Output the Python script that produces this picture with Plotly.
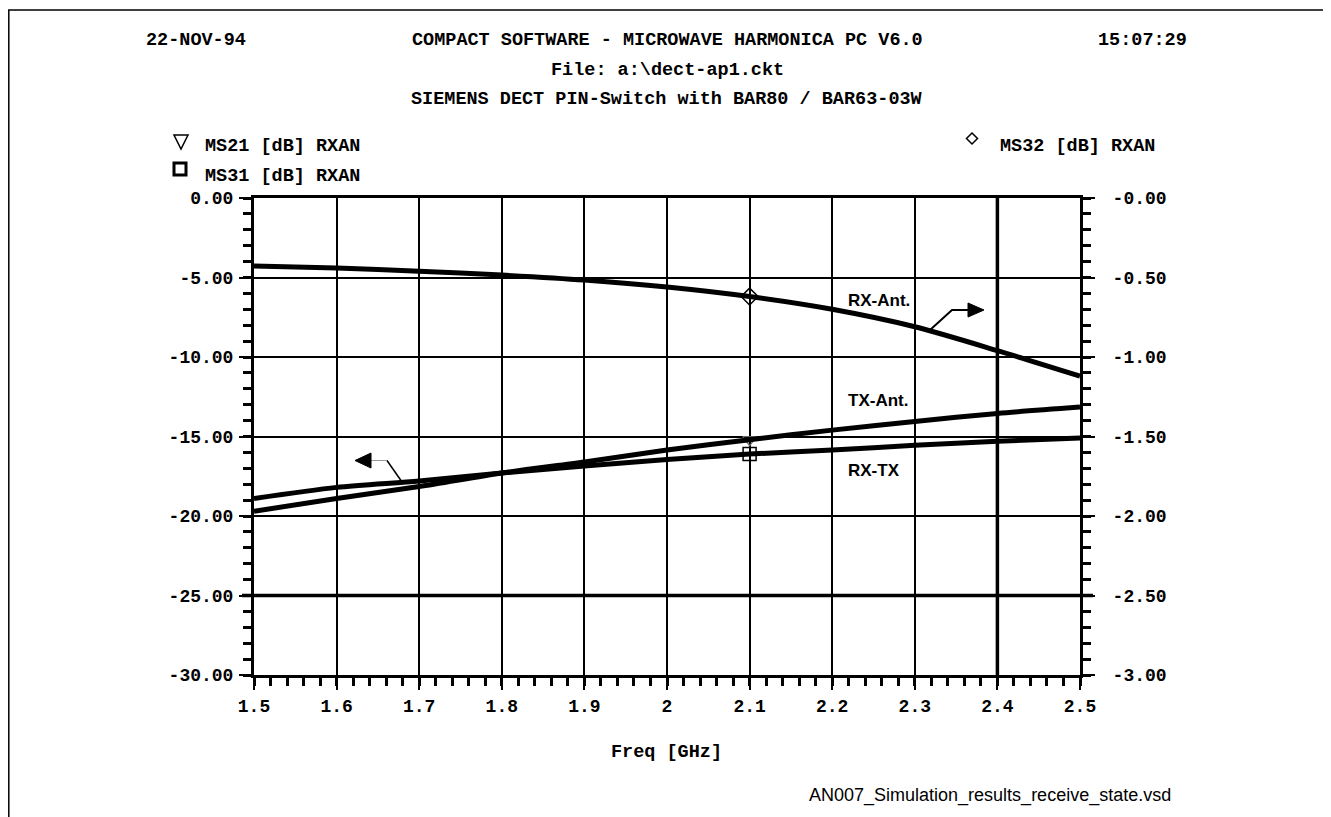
import plotly.graph_objects as go

# ---------------- data ----------------
freq = [1.5, 1.6, 1.7, 1.8, 1.9, 2.0, 2.1, 2.2, 2.3, 2.4, 2.5]
ms21_tx_ant = [-19.7, -18.9, -18.15, -17.3, -16.6, -15.85, -15.2, -14.6, -14.05, -13.55, -13.15]
ms31_rx_tx = [-18.9, -18.2, -17.8, -17.3, -16.85, -16.45, -16.1, -15.85, -15.55, -15.3, -15.1]
ms32_rx_ant = [-0.428, -0.44, -0.46, -0.485, -0.516, -0.56, -0.62, -0.70, -0.81, -0.96, -1.12]
marker_freq = 2.1

x_tickvals = [1.5, 1.6, 1.7, 1.8, 1.9, 2.0, 2.1, 2.2, 2.3, 2.4, 2.5]
x_ticktext = ["1.5", "1.6", "1.7", "1.8", "1.9", "2", "2.1", "2.2", "2.3", "2.4", "2.5"]
left_tickvals = [0, -5, -10, -15, -20, -25, -30]
left_ticktext = ["0.00", "-5.00", "-10.00", "-15.00", "-20.00", "-25.00", "-30.00"]
right_tickvals = [0, -0.5, -1.0, -1.5, -2.0, -2.5, -3.0]
right_ticktext = ["-0.00", "-0.50", "-1.00", "-1.50", "-2.00", "-2.50", "-3.00"]

header_left = "22-NOV-94"
header_right = "15:07:29"
title_lines = ["COMPACT SOFTWARE - MICROWAVE HARMONICA PC V6.0",
               "File: a:\\dect-ap1.ckt",
               "SIEMENS DECT PIN-Switch with BAR80 / BAR63-03W"]
legend_labels = ["MS21 [dB] RXAN", "MS31 [dB] RXAN", "MS32 [dB] RXAN"]
curve_labels = ["RX-Ant.", "TX-Ant.", "RX-TX"]
x_title = "Freq [GHz]"
footer = "AN007_Simulation_results_receive_state.vsd"

# ---------------- layout geometry (page pixel coordinates) ----------------
W, H = 1331, 817
OFF = 8  # default body margin of the html page
L, R, T, B = 254, 1080, 198, 675


def fx(px):
    return (px - L) / (R - L)


def fy(py):
    return (B - py) / (B - T)


MONO = "Liberation Mono"
SANS = "Liberation Sans"

fig = go.Figure()

idx = freq.index(marker_freq)

# triangle marker (mostly hidden below the line)
fig.add_trace(go.Scatter(x=[freq[idx]], y=[ms21_tx_ant[idx]], mode="markers",
                         marker=dict(symbol="triangle-down-open", size=12, color="#666",
                                     line=dict(width=1.2, color="#666")),
                         showlegend=False, hoverinfo="skip"))

fig.add_trace(go.Scatter(x=freq, y=ms21_tx_ant, mode="lines", name=legend_labels[0],
                         line=dict(color="black", width=5, shape="spline", smoothing=0.8),
                         showlegend=False))
fig.add_trace(go.Scatter(x=freq, y=ms31_rx_tx, mode="lines", name=legend_labels[1],
                         line=dict(color="black", width=5, shape="spline", smoothing=0.8),
                         showlegend=False))
fig.add_trace(go.Scatter(x=freq, y=ms32_rx_ant, mode="lines", name=legend_labels[2], yaxis="y2",
                         line=dict(color="black", width=5, shape="spline", smoothing=0.8),
                         showlegend=False))

fig.add_trace(go.Scatter(x=[freq[idx]], y=[ms31_rx_tx[idx]], mode="markers",
                         marker=dict(symbol="square-open", size=13, color="black",
                                     line=dict(width=1.5, color="black")),
                         showlegend=False, hoverinfo="skip"))
fig.add_trace(go.Scatter(x=[freq[idx]], y=[ms32_rx_ant[idx]], mode="markers", yaxis="y2",
                         marker=dict(symbol="diamond-open", size=13, color="black",
                                     line=dict(width=1.5, color="black")),
                         showlegend=False, hoverinfo="skip"))

tickfont = dict(family=MONO, size=18, color="black", weight="bold")

fig.update_layout(
    width=W - OFF, height=H - OFF,
    margin=dict(l=L - OFF, r=W - R, t=T - OFF, b=H - B, autoexpand=False),
    paper_bgcolor="white", plot_bgcolor="white",
    showlegend=False,
    xaxis=dict(range=[1.5, 2.5], tickmode="array", tickvals=x_tickvals, ticktext=x_ticktext,
               showgrid=True, gridcolor="black", gridwidth=2,
               showline=True, linecolor="black", linewidth=3, mirror=True,
               ticks="outside", ticklen=12, tickwidth=2, tickcolor="black",
               ticklabelstandoff=0,
               minor=dict(dtick=0.02, tick0=1.5, ticks="outside", ticklen=8, tickwidth=3,
                          tickcolor="black", showgrid=False),
               tickfont=tickfont, zeroline=False),
    yaxis=dict(range=[-30, 0], tickmode="array", tickvals=left_tickvals, ticktext=left_ticktext,
               showgrid=True, gridcolor="black", gridwidth=2,
               showline=True, linecolor="black", linewidth=3,
               ticks="outside", ticklen=12, tickwidth=2, tickcolor="black",
               ticklabelstandoff=2,
               minor=dict(dtick=1, tick0=0, ticks="outside", ticklen=8, tickwidth=3,
                          tickcolor="black", showgrid=False),
               tickfont=tickfont, zeroline=False),
    yaxis2=dict(range=[-3, 0], overlaying="y", side="right", anchor="x",
                tickmode="array", tickvals=right_tickvals, ticktext=right_ticktext,
                showgrid=False, showline=True, linecolor="black", linewidth=3,
                ticks="outside", ticklen=12, tickwidth=2, tickcolor="black",
                ticklabelstandoff=14,
                minor=dict(dtick=0.1, tick0=0, ticks="outside", ticklen=8, tickwidth=3,
                           tickcolor="black", showgrid=False),
                tickfont=tickfont, zeroline=False),
)

shapes = []
# grid overrides
shapes.append(dict(type="line", xref="x", yref="paper", x0=marker_freq, x1=marker_freq, y0=0, y1=1,
                   line=dict(color="white", width=3), layer="between"))
shapes.append(dict(type="line", xref="x", yref="paper", x0=marker_freq, x1=marker_freq, y0=0, y1=1,
                   line=dict(color="#9a9a9a", width=1), layer="between"))
shapes.append(dict(type="line", xref="x", yref="paper", x0=x_tickvals[9], x1=x_tickvals[9], y0=0, y1=1,
                   line=dict(color="black", width=3.5), layer="between"))
shapes.append(dict(type="line", xref="paper", yref="y", x0=fx(242), x1=fx(1093), y0=left_tickvals[5],
                   y1=left_tickvals[5], line=dict(color="black", width=3.5), layer="between"))

# outer frame (left edge as close to the page edge as the page margin allows)
shapes.append(dict(type="path", xref="paper", yref="paper",
                   path=f"M {fx(OFF + 0.8)} {fy(817)} L {fx(OFF + 0.8)} {fy(10)} L {fx(1327)} {fy(10)} L {fx(1327)} {fy(817)}",
                   line=dict(color="black", width=1.5)))

# right pointing arrow (RX-Ant.)
shapes.append(dict(type="path", xref="paper", yref="paper",
                   path=f"M {fx(930)} {fy(330)} L {fx(952)} {fy(310)} L {fx(968)} {fy(310)}",
                   line=dict(color="black", width=2)))
shapes.append(dict(type="path", xref="paper", yref="paper",
                   path=f"M {fx(968)} {fy(303)} L {fx(984)} {fy(310)} L {fx(968)} {fy(317)} Z",
                   fillcolor="black", line=dict(color="black", width=1)))
# left pointing arrow
shapes.append(dict(type="path", xref="paper", yref="paper",
                   path=f"M {fx(402)} {fy(482)} L {fx(387)} {fy(460.5)}",
                   line=dict(color="black", width=1.5)))
shapes.append(dict(type="path", xref="paper", yref="paper",
                   path=f"M {fx(387)} {fy(460.5)} L {fx(371)} {fy(460.5)}",
                   line=dict(color="#9a9a9a", width=1)))
shapes.append(dict(type="path", xref="paper", yref="paper",
                   path=f"M {fx(371)} {fy(453)} L {fx(355)} {fy(460.5)} L {fx(371)} {fy(468)} Z",
                   fillcolor="black", line=dict(color="black", width=1)))

# legend symbols
shapes.append(dict(type="path", xref="paper", yref="paper",
                   path=f"M {fx(174)} {fy(135)} L {fx(188)} {fy(135)} L {fx(181)} {fy(149)} Z",
                   line=dict(color="black", width=1.5)))
shapes.append(dict(type="rect", xref="paper", yref="paper",
                   x0=fx(174), x1=fx(186), y0=fy(175), y1=fy(163),
                   line=dict(color="black", width=3)))
shapes.append(dict(type="path", xref="paper", yref="paper",
                   path=f"M {fx(972)} {fy(133)} L {fx(977.5)} {fy(138.5)} L {fx(972)} {fy(144)} L {fx(966.5)} {fy(138.5)} Z",
                   line=dict(color="black", width=1.5)))

fig.update_layout(shapes=shapes)

hfont = dict(family=MONO, size=18.5, color="black", weight="bold")
lfont = dict(family=SANS, size=17, color="black", weight="bold")


def txt(text, px, py, font, xanchor="center"):
    return dict(text=text, x=fx(px), y=fy(py), xref="paper", yref="paper", showarrow=False,
                xanchor=xanchor, yanchor="middle", font=font)


annotations = [
    txt(header_left, 196, 40, hfont),
    txt(title_lines[0], 667, 40, hfont),
    txt(header_right, 1142, 40, hfont),
    txt(title_lines[1], 667, 70, hfont),
    txt(title_lines[2], 667, 100, hfont),
    txt(legend_labels[0], 203, 146, hfont, "left"),
    txt(legend_labels[1], 203, 176, hfont, "left"),
    txt(legend_labels[2], 998, 146, hfont, "left"),
    txt(curve_labels[0], 846, 300, lfont, "left"),
    txt(curve_labels[1], 846, 400, lfont, "left"),
    txt(curve_labels[2], 846, 470, lfont, "left"),
    txt(x_title, 666, 752, hfont),
    txt(footer, 990, 795, dict(family=SANS, size=18, color="black")),
]
fig.update_layout(annotations=annotations)

fig.write_html("out.html")
